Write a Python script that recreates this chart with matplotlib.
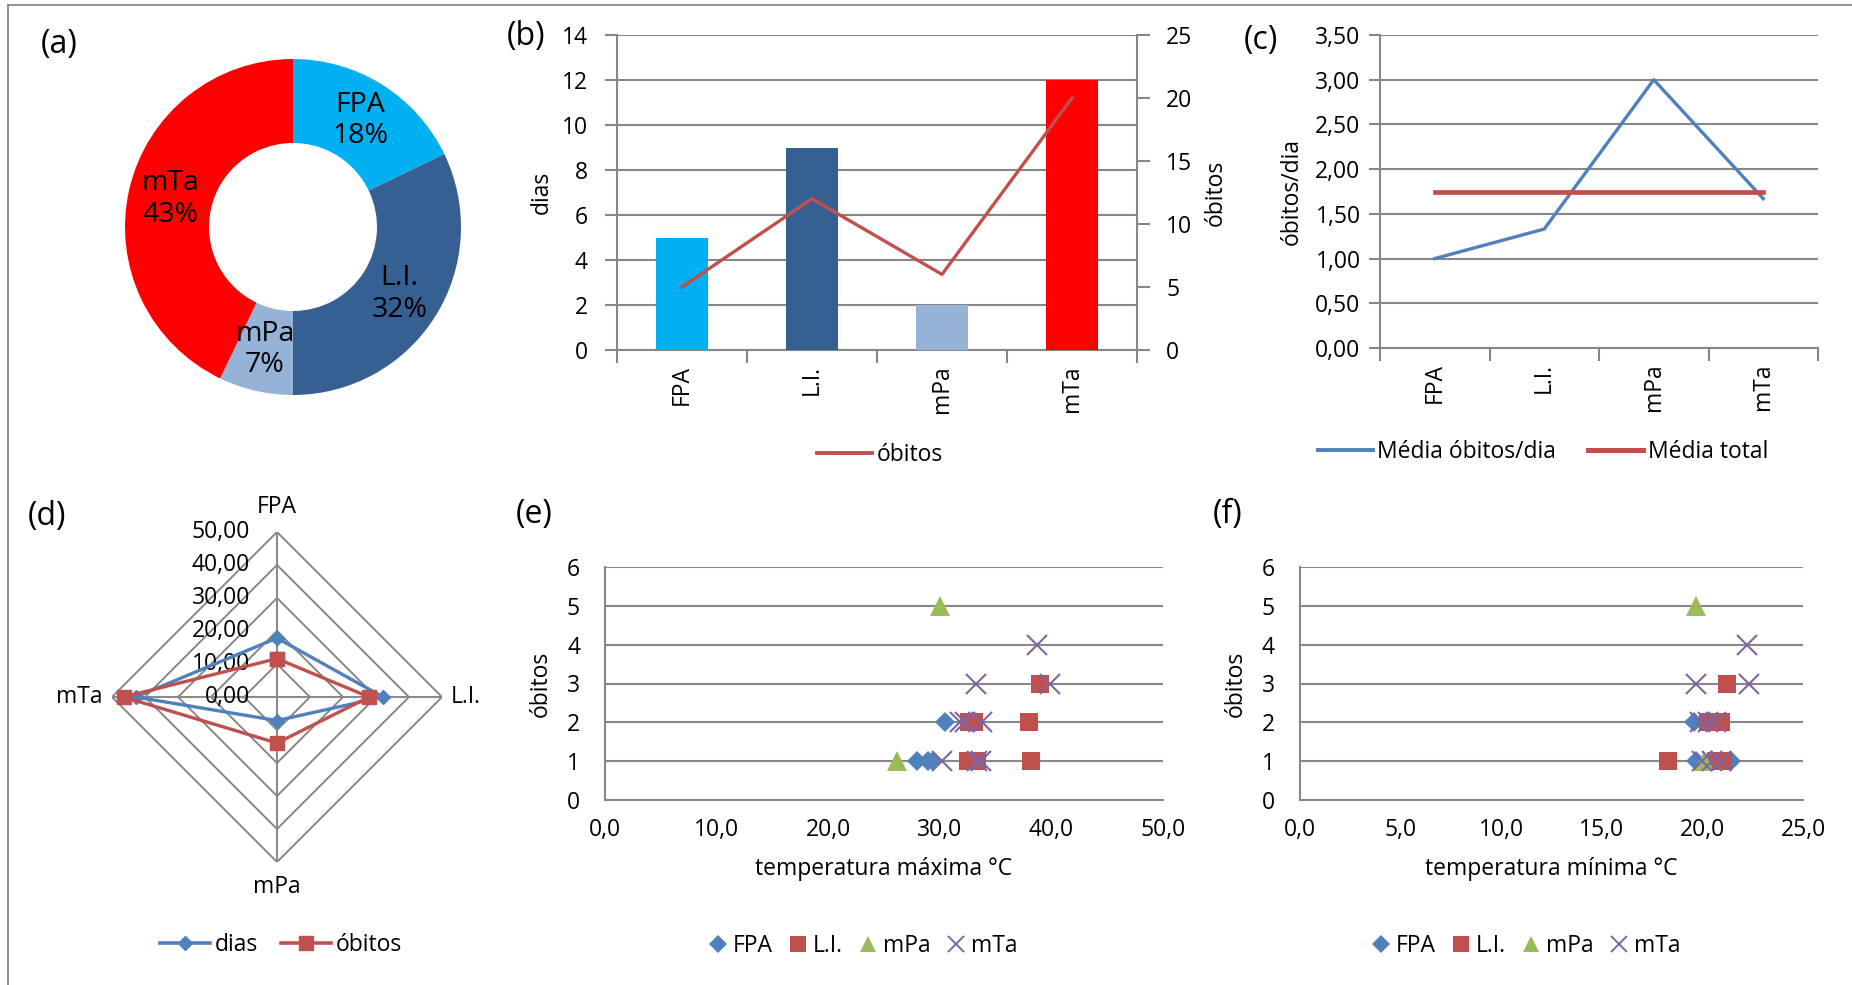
import numpy as np
import matplotlib
matplotlib.use("Agg")
import matplotlib.pyplot as plt
from matplotlib.lines import Line2D
from matplotlib.ticker import FuncFormatter

# ---------------- data ----------------
categories = ["FPA", "L.I.", "mPa", "mTa"]
dias = [5, 9, 2, 12]
obitos = [5, 12, 6, 20]
obitos_por_dia = [1.00, 1.33, 3.00, 1.67]
media_total = [1.75, 1.75, 1.75, 1.75]
radar_dias = [17.86, 32.14, 7.14, 42.86]
radar_obitos = [11.63, 27.91, 13.95, 46.51]
radar_ticks = [0, 10, 20, 30, 40, 50]

# scatter (e): temperatura maxima
tmax_FPA = [28.0, 28.9, 29.4, 30.5]
ob_tmax_FPA = [1, 1, 1, 2]
tmax_LI = [39.0, 32.6, 33.1, 38.0, 32.5, 33.3, 38.2]
ob_tmax_LI = [3, 2, 2, 2, 1, 1, 1]
tmax_mPa = [30.0, 26.2]
ob_tmax_mPa = [5, 1]
tmax_mTa = [38.7, 33.2, 39.9, 31.8, 32.3, 33.8, 30.2, 33.3, 33.7]
ob_tmax_mTa = [4, 3, 3, 2, 2, 2, 1, 1, 1]

# scatter (f): temperatura minima
tmin_FPA = [19.7, 21.4, 19.6]
ob_tmin_FPA = [1, 1, 2]
tmin_LI = [21.2, 20.3, 20.6, 20.9, 18.3, 20.7, 21.0]
ob_tmin_LI = [3, 2, 2, 2, 1, 1, 1]
tmin_mPa = [19.7, 20.1]
ob_tmin_mPa = [5, 1]
tmin_mTa = [22.2, 19.7, 22.3, 19.9, 20.3, 20.7, 20.0, 20.5, 20.9]
ob_tmin_mTa = [4, 3, 3, 2, 2, 2, 1, 1, 1]

# ---------------- style ----------------
cat_colors = ["#00B0F0", "#376092", "#95B3D7", "#FF0000"]
BLUE = "#4F81BD"
RED = "#C0504D"
GREEN = "#9BBB59"
PURPLE = "#8064A2"
GRID = "#878787"
FS = 16.5

plt.rcParams["font.family"] = ["Open Sans", "DejaVu Sans"]
plt.rcParams["axes.unicode_minus"] = False

W, H = 1852, 985
fig = plt.figure(figsize=(W / 100, H / 100), dpi=100)
fig.patch.set_facecolor("white")


def box(l, t, r, b):
    return [l / W, 1 - b / H, (r - l) / W, (b - t) / H]


def comma(fmt):
    return FuncFormatter(lambda v, p: fmt.format(v).replace(".", ","))


def style_spines(ax, show=("left", "bottom")):
    for s in ["left", "right", "top", "bottom"]:
        ax.spines[s].set_visible(s in show)
        ax.spines[s].set_color(GRID)
        ax.spines[s].set_linewidth(1.5)


# figure border
fig.add_artist(Line2D([8 / W, 1], [1 - 5 / H, 1 - 5 / H], transform=fig.transFigure,
                      color="#7f7f7f", lw=1.2))
fig.add_artist(Line2D([8 / W, 8 / W], [0, 1 - 5 / H], transform=fig.transFigure,
                      color="#7f7f7f", lw=1.2))

# ---------------- (a) donut ----------------
axA = fig.add_axes(box(293 - 168, 227 - 168, 293 + 168, 227 + 168))
wedges, _ = axA.pie(dias, colors=cat_colors, startangle=90, counterclock=False,
                    radius=1, wedgeprops=dict(width=0.5, linewidth=0))
axA.set_xlim(-1, 1)
axA.set_ylim(-1, 1)
axA.set_aspect("equal")
tot = sum(dias)
for w, c, d in zip(wedges, categories, dias):
    ang = np.deg2rad((w.theta1 + w.theta2) / 2)
    axA.text(0.75 * np.cos(ang), 0.75 * np.sin(ang), f"{c}\n{round(100 * d / tot)}%",
             ha="center", va="center", fontsize=20.5, linespacing=1.15)

# ---------------- (b) bars + line ----------------
x = np.arange(len(categories))
axB = fig.add_axes(box(617, 35, 1137, 350))
axB.bar(x, dias, width=0.4, color=cat_colors, zorder=3)
axB.set_xlim(-0.5, 3.5)
axB.set_ylim(0, 14)
axB.set_yticks(np.arange(0, 15, 2))
axB.grid(axis="y", color=GRID, lw=1.5, zorder=0)
axB.set_axisbelow(True)
style_spines(axB, ("left", "right", "bottom"))
axB.set_xticks(x)
axB.set_xticklabels(categories, rotation=90, fontsize=FS)
axB.tick_params(axis="x", which="major", length=0, pad=11)
axB.set_xticks(np.arange(-0.5, 4, 1), minor=True)
axB.tick_params(axis="x", which="minor", length=9, width=1.5, color=GRID)
axB.tick_params(axis="y", length=9, width=1.5, color=GRID, labelsize=FS, pad=12)
axB.set_ylabel("dias", fontsize=FS, labelpad=6)
axB2 = axB.twinx()
axB2.plot(x, obitos, color=RED, lw=2.4, zorder=4)
axB2.set_ylim(0, 25)
axB2.set_yticks(np.arange(0, 26, 5))
style_spines(axB2, ())
axB2.tick_params(axis="y", length=9, width=1.5, color=GRID, labelsize=FS, pad=12)
axB2.set_ylabel("óbitos", fontsize=FS, labelpad=8)
fig.legend(handles=[Line2D([], [], color=RED, lw=2.8)], labels=["óbitos"],
           loc="center", bbox_to_anchor=(880 / W, 1 - 455 / H), frameon=False,
           fontsize=FS, handlelength=2.4, handletextpad=0.2)

# ---------------- (c) line chart ----------------
axC = fig.add_axes(box(1380, 35, 1818, 348))
axC.plot(x, obitos_por_dia, color=BLUE, lw=2.4, zorder=3, label="Média óbitos/dia")
axC.plot(x, media_total, color=RED, lw=3.4, zorder=4, label="Média total")
axC.set_xlim(-0.5, 3.5)
axC.set_ylim(0, 3.5)
axC.set_yticks(np.arange(0, 3.51, 0.5))
axC.yaxis.set_major_formatter(comma("{:.2f}"))
axC.grid(axis="y", color=GRID, lw=1.5, zorder=0)
axC.set_axisbelow(True)
style_spines(axC, ("left", "bottom"))
axC.set_xticks(x)
axC.set_xticklabels(categories, rotation=90, fontsize=FS)
axC.tick_params(axis="x", which="major", length=0, pad=11)
axC.set_xticks(np.arange(-0.5, 4, 1), minor=True)
axC.tick_params(axis="x", which="minor", length=9, width=1.5, color=GRID)
axC.tick_params(axis="y", length=8, width=1.5, color=GRID, labelsize=FS, pad=6)
axC.set_ylabel("óbitos/dia", fontsize=FS, labelpad=8)
fig.legend(handles=[Line2D([], [], color=BLUE, lw=2.8), Line2D([], [], color=RED, lw=3.6)],
           labels=["Média óbitos/dia", "Média total"], loc="center",
           bbox_to_anchor=(1543 / W, 1 - 452 / H), frameon=False, fontsize=FS, ncol=2,
           handlelength=2.4, handletextpad=0.2, columnspacing=1.4)

# ---------------- (d) radar ----------------
axD = fig.add_axes(box(277 - 165, 697 - 165, 277 + 165, 697 + 165), projection="polar")
axD.set_theta_offset(np.pi / 2)
axD.set_theta_direction(-1)
theta = np.arange(len(categories)) * 2 * np.pi / len(categories)
thc = np.append(theta, theta[0])
axD.set_ylim(0, 50)
axD.set_axis_off()
for r in radar_ticks[1:]:
    axD.plot(thc, [r] * len(thc), color=GRID, lw=1.4, zorder=1)
for t in theta:
    axD.plot([t, t], [0, 50], color=GRID, lw=1.4, zorder=1)
axD.plot(thc, np.append(radar_dias, radar_dias[0]), color=BLUE, lw=2.4, marker="D",
         ms=7, zorder=3, clip_on=False)
axD.plot(thc, np.append(radar_obitos, radar_obitos[0]), color=RED, lw=2.4, marker="s",
         ms=10.5, zorder=4, clip_on=False)
for r in radar_ticks:
    axD.annotate(f"{r:.2f}".replace(".", ","), xy=(0, r), xytext=(-27, 0),
                 textcoords="offset pixels", ha="right", va="center", fontsize=FS,
                 annotation_clip=False, zorder=2)
offs = [(0, 25, "center"), (9, 0, "left"), (0, -25, "center"), (-9, 0, "right")]
for t, c, (dx, dy, ha) in zip(theta, categories, offs):
    axD.annotate(c, xy=(t, 50), xytext=(dx, dy), textcoords="offset pixels", ha=ha,
                 va="center", fontsize=FS, annotation_clip=False)
fig.legend(handles=[Line2D([], [], color=BLUE, lw=2.6, marker="D", ms=7),
                    Line2D([], [], color=RED, lw=2.6, marker="s", ms=10)],
           labels=["dias", "óbitos"], loc="center", bbox_to_anchor=(281 / W, 1 - 945 / H),
           frameon=False, fontsize=FS, ncol=2, handlelength=2.2, handletextpad=0.2,
           columnspacing=1.0)

# ---------------- (e), (f) scatter ----------------
def scatter_panel(bx, xs, ys, xmax, xstep, xlabel):
    ax = fig.add_axes(box(*bx))
    specs = [("D", BLUE, 10.5, 0), ("s", RED, 13.5, 0), ("^", GREEN, 15, 0),
             ("x", PURPLE, 14, 1.5)]
    for (m, col, ms, mew), xv, yv in zip(specs, xs, ys):
        ax.plot(xv, yv, ls="none", marker=m, color=col, ms=ms, mew=mew, zorder=3,
                clip_on=False)
    ax.set_xlim(0, xmax)
    ax.set_ylim(0, 6)
    ax.set_xticks(np.arange(0, xmax + 0.01, xstep))
    ax.set_yticks(np.arange(0, 7, 1))
    ax.xaxis.set_major_formatter(comma("{:.1f}"))
    ax.grid(axis="y", color=GRID, lw=1.5, zorder=0)
    ax.set_axisbelow(True)
    style_spines(ax, ("left", "bottom"))
    ax.tick_params(axis="both", length=0, labelsize=FS)
    ax.tick_params(axis="x", pad=13)
    ax.tick_params(axis="y", pad=18)
    ax.set_xlabel(xlabel, fontsize=FS, labelpad=11)
    ax.set_ylabel("óbitos", fontsize=FS, labelpad=10)
    return ax


scatter_panel((605, 567, 1163, 800), [tmax_FPA, tmax_LI, tmax_mPa, tmax_mTa],
              [ob_tmax_FPA, ob_tmax_LI, ob_tmax_mPa, ob_tmax_mTa], 50, 10,
              "temperatura máxima °C")
scatter_panel((1300, 567, 1803, 800), [tmin_FPA, tmin_LI, tmin_mPa, tmin_mTa],
              [ob_tmin_FPA, ob_tmin_LI, ob_tmin_mPa, ob_tmin_mTa], 25, 5,
              "temperatura mínima °C")

leg_handles = [Line2D([], [], ls="none", marker="D", color=BLUE, ms=9, mew=0),
               Line2D([], [], ls="none", marker="s", color=RED, ms=11, mew=0),
               Line2D([], [], ls="none", marker="^", color=GREEN, ms=12, mew=0),
               Line2D([], [], ls="none", marker="x", color=PURPLE, ms=12, mew=1.4)]
for cx in (862, 1525):
    fig.legend(handles=leg_handles, labels=categories, loc="center",
               bbox_to_anchor=(cx / W, 1 - 946 / H), frameon=False, fontsize=FS, ncol=4,
               handlelength=1.0, handletextpad=0.15, columnspacing=0.6)

# ---------------- panel labels ----------------
for lab, (px, py) in zip(["(a)", "(b)", "(c)", "(d)", "(e)", "(f)"],
                         [(59, 45), (526, 37), (1261, 41), (47, 516), (534, 514), (1228, 514)]):
    fig.text(px / W, 1 - py / H, lab, fontsize=23, ha="center", va="center")

fig.savefig("out.png", dpi=100, facecolor="white")
